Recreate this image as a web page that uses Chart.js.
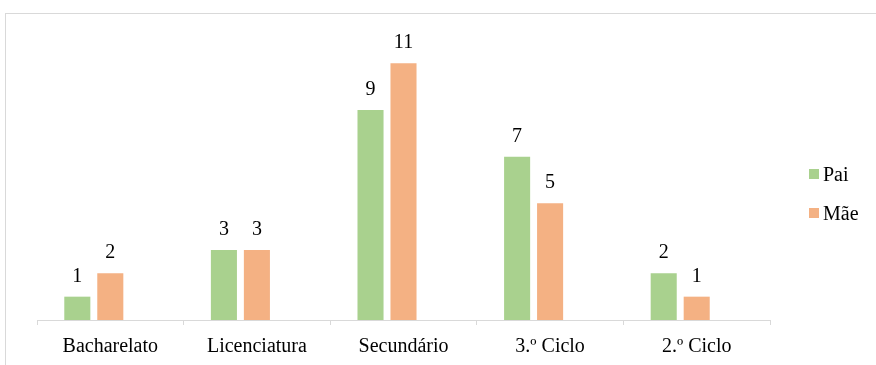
<!DOCTYPE html>
<html>
<head>
<meta charset="utf-8">
<script src="https://cdn.jsdelivr.net/npm/chart.js@4"></script>
<style>
    html, body { margin: 0; padding: 0; background: #fff; overflow: hidden; }
    #wrap { position: relative; width: 876px; height: 365px; }
    #frame {
        position: absolute; left: 5px; top: 13px; width: 1000px; height: 1000px;
        border-left: 1px solid #d9d9d9; border-top: 1px solid #d9d9d9;
    }
    #chart { position: absolute; left: 0; top: 0; }
    #legend { position: absolute; left: 809px; top: 163px; font-family: "Times New Roman", Tinos, "Liberation Serif", "Noto Serif", "DejaVu Serif", serif; font-size: 20px; color: #000; }
    .leg-item { position: relative; height: 39px; }
    .leg-box { position: absolute; left: 0; top: 6px; width: 10px; height: 10px; }
    .leg-text { position: absolute; left: 14px; top: 0; line-height: 22px; }
</style>
</head>
<body>
<div id="wrap">
    <div id="frame"></div>
    <canvas id="chart" width="876" height="365"></canvas>
    <div id="legend"></div>
</div>
<script>
const categories = ['Bacharelato', 'Licenciatura', 'Secundário', '3.º Ciclo', '2.º Ciclo'];
const paiValues = [1, 3, 9, 7, 2];
const maeValues = [2, 3, 11, 5, 1];
const yTicks = [0, 12];

const greenColor = '#A9D18E';
const orangeColor = '#F4B183';
const serif = '"Times New Roman", Tinos, "Liberation Serif", "Noto Serif", "DejaVu Serif", serif';

const valueLabels = {
    id: 'valueLabels',
    afterDatasetsDraw(chart) {
        const ctx = chart.ctx;
        ctx.save();
        ctx.font = '20px ' + serif;
        ctx.fillStyle = '#000';
        ctx.textAlign = 'center';
        ctx.textBaseline = 'alphabetic';
        chart.data.datasets.forEach(function (ds, i) {
            if (!ds.label) {
                return;
            }
            chart.getDatasetMeta(i).data.forEach(function (bar, j) {
                const v = ds.data[j];
                if (v === null || v === undefined) {
                    return;
                }
                ctx.fillText(String(v), bar.x, bar.y - 15);
            });
        });
        ctx.restore();
    },
};

const chart = new Chart(document.getElementById('chart'), {
    type: 'bar',
    data: {
        labels: categories,
        datasets: [
            { label: 'Pai', data: paiValues, backgroundColor: greenColor },
            { label: 'Mãe', data: maeValues, backgroundColor: orangeColor },
            // empty third series keeps Excel-style spacing
            { label: '', data: categories.map(function () { return null; }), backgroundColor: 'transparent' },
        ],
    },
    options: {
        responsive: false,
        animation: false,
        categoryPercentage: 0.675,
        barPercentage: 0.79,
        layout: { padding: { left: 37, right: 106, top: 40, bottom: 0 } },
        plugins: {
            legend: { display: false },
            tooltip: { enabled: false },
        },
        scales: {
            x: {
                grid: { drawOnChartArea: false, color: '#d9d9d9', tickLength: 5 },
                border: { color: '#d9d9d9', width: 1 },
                ticks: { color: '#000', padding: 10, font: { family: serif, size: 20 } },
                afterFit: function (scale) {
                    scale.height = 45;
                },
            },
            y: {
                display: false,
                min: yTicks[0],
                max: yTicks[1],
            },
        },
    },
    plugins: [valueLabels],
});

const legendEl = document.getElementById('legend');
chart.data.datasets.forEach(function (ds) {
    if (!ds.label) {
        return;
    }
    const item = document.createElement('div');
    item.className = 'leg-item';
    item.innerHTML = '<span class="leg-box" style="background:' + ds.backgroundColor + '"></span>' +
        '<span class="leg-text">' + ds.label + '</span>';
    legendEl.appendChild(item);
});
</script>
</body>
</html>
